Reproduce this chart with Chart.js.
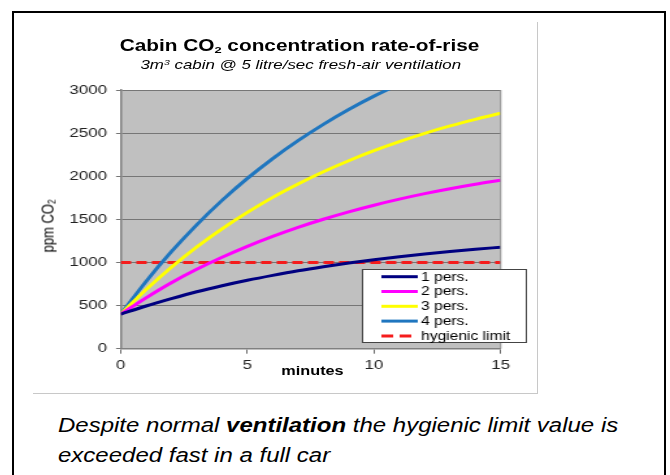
<!DOCTYPE html>
<html>
<head>
<meta charset="utf-8">
<script src="https://cdn.jsdelivr.net/npm/chart.js@4.4.1/dist/chart.umd.min.js"></script>
<style>
  html, body { margin: 0; padding: 0; background: #fff; overflow: hidden; }
  #page { position: relative; width: 670px; height: 475px; font-family: "Liberation Sans", Arial, sans-serif; }
  #frame { position: absolute; left: 12px; top: 11px; width: 650px; height: 500px; border: 2px solid #000; }
  #boxline-r { position: absolute; left: 537px; top: 22px; width: 1px; height: 371px; background: #c8c8c8; }
  #boxline-b { position: absolute; left: 33px; top: 393px; width: 505px; height: 1px; background: #c8c8c8; }
  #chartbox { position: absolute; left: 33px; top: 22px; width: 388px; height: 371px; transform: scaleX(1.3); transform-origin: 0 0; }
  #chartbox canvas { position: absolute; left: 0; top: 0; }
  .lbl { position: absolute; white-space: nowrap; color: #000; line-height: 1; }
  #title { left: 205px; top: 16px; transform: translateX(-50%); font-size: 16px; font-weight: bold; }
  #subtitle { left: 206px; top: 36px; transform: translateX(-50%); font-size: 13px; font-style: italic; }
  #ytitle { left: 11px; top: 204px; transform: translate(-50%, -50%) rotate(-90deg); font-size: 13px; }
  #xtitle { left: 215px; top: 343px; transform: translateX(-50%); font-size: 12.5px; font-weight: bold; }
  sub { font-size: 0.62em; vertical-align: -0.25em; line-height: 0; }
  sup { font-size: 0.62em; vertical-align: 0.45em; line-height: 0; }
  #caption { position: absolute; left: 58px; top: 410px; font-size: 20px; font-style: italic; line-height: 30px; transform: scaleX(1.2); transform-origin: 0 0; white-space: nowrap; }
</style>
</head>
<body>
<div id="page">
  <div id="frame"></div>
  <div id="boxline-r"></div>
  <div id="boxline-b"></div>
  <div id="chartbox">
    <canvas id="co2Chart" width="388" height="371"></canvas>
    <div class="lbl" id="title">Cabin CO<sub>2</sub> concentration rate-of-rise</div>
    <div class="lbl" id="subtitle">3m<sup>3</sup> cabin @ 5 litre/sec fresh-air ventilation</div>
    <div class="lbl" id="ytitle">ppm CO<sub>2</sub></div>
    <div class="lbl" id="xtitle">minutes</div>
  </div>
  <div id="caption">Despite normal <b>ventilation</b> the hygienic limit value is<br>exceeded fast in a full car</div>
</div>
<script>
/* ---------------------------------
   DATA
--------------------------------- */
const minutes = [0, 1, 2, 3, 4, 5, 6, 7, 8, 9, 10, 11, 12, 13, 14, 15];
const onePers = [400, 495, 580, 660, 730, 793, 850, 903, 950, 993, 1032, 1067, 1099, 1127, 1153, 1177];
const twoPers = [400, 590, 765, 920, 1060, 1187, 1302, 1407, 1501, 1587, 1664, 1734, 1798, 1855, 1907, 1954];
const threePers = [400, 685, 945, 1180, 1390, 1580, 1755, 1910, 2052, 2180, 2296, 2401, 2497, 2583, 2660, 2731];
const fourPers = [400, 780, 1125, 1437, 1720, 1975, 2205, 2413, 2602, 2774, 2929, 3068];
const limitMinutes = [0, 15];
const limitValues = [1000, 1000];
const seriesLabels = ["1 pers.", "2 pers.", "3 pers.", "4 pers.", "hygienic limit"];
const xTicks = [0, 5, 10, 15];
const yTicks = [0, 500, 1000, 1500, 2000, 2500, 3000];

/* ---------------------------------
   HELPERS
--------------------------------- */
function toPoints(xs, ys) {
  return ys.map((y, i) => ({ x: xs[i], y: y }));
}

function curve(label, xs, ys, color) {
  return {
    label,
    data: toPoints(xs, ys),
    borderColor: color,
    backgroundColor: color,
    borderWidth: 3,
    pointRadius: 0,
    cubicInterpolationMode: "monotone",
    fill: false
  };
}

// silver plot background + plot border
const plotBackground = {
  id: "plotBackground",
  beforeDraw(chart) {
    const { ctx, chartArea: a } = chart;
    ctx.save();
    ctx.fillStyle = "#c0c0c0";
    ctx.fillRect(a.left, a.top, a.right - a.left, a.bottom - a.top);
    ctx.restore();
  },
  afterDatasetsDraw(chart) {
    const { ctx, chartArea: a } = chart;
    ctx.save();
    ctx.strokeStyle = "#8a8a8a";
    ctx.lineWidth = 1;
    ctx.beginPath();
    ctx.moveTo(a.right, a.top);
    ctx.lineTo(a.right, a.bottom);
    ctx.stroke();
    ctx.restore();
  }
};

// legend box sitting inside the plot, bottom right
const boxLegend = {
  id: "boxLegend",
  afterDraw(chart) {
    const ctx = chart.ctx;
    const box = { left: 253, top: 247, right: 380, bottom: 321 };
    const rowY = 254.7;
    const rowStep = 14.8;
    ctx.save();
    ctx.fillStyle = "#fff";
    ctx.fillRect(box.left, box.top, box.right - box.left, box.bottom - box.top);
    ctx.strokeStyle = "#444";
    ctx.lineWidth = 1;
    ctx.strokeRect(box.left + 0.5, box.top + 0.5, box.right - box.left - 1, box.bottom - box.top - 1);
    ctx.font = "12px 'Liberation Sans', Arial, sans-serif";
    ctx.textBaseline = "middle";
    chart.data.datasets.forEach((ds, i) => {
      const y = rowY + i * rowStep;
      ctx.strokeStyle = ds.borderColor;
      ctx.lineWidth = 3;
      ctx.setLineDash(ds.borderDash ? [9, 5] : []);
      ctx.beginPath();
      ctx.moveTo(268, y);
      ctx.lineTo(296, y);
      ctx.stroke();
      ctx.setLineDash([]);
      ctx.fillStyle = "#000";
      ctx.fillText(ds.label, 298.5, y + 0.5);
    });
    ctx.restore();
  }
};

/* ---------------------------------
   CHART
--------------------------------- */
const ctx = document.getElementById("co2Chart").getContext("2d");
const chart = new Chart(ctx, {
  type: "line",
  data: {
    datasets: [
      curve(seriesLabels[0], minutes, onePers, "#000080"),
      curve(seriesLabels[1], minutes, twoPers, "#ff00ff"),
      curve(seriesLabels[2], minutes, threePers, "#ffff00"),
      curve(seriesLabels[3], minutes, fourPers, "#1f76bf"),
      {
        label: seriesLabels[4],
        data: toPoints(limitMinutes, limitValues),
        borderColor: "#f51c1c",
        borderWidth: 3,
        borderDash: [8, 4],
        pointRadius: 0,
        tension: 0
      }
    ]
  },
  options: {
    responsive: false,
    animation: false,
    devicePixelRatio: 1,
    layout: { padding: { left: 0, top: 68, right: 28.23, bottom: 14.3 } },
    plugins: { legend: { display: false }, tooltip: { enabled: false } },
    scales: {
      x: {
        type: "linear",
        min: 0,
        max: 15,
        afterBuildTicks: (s) => { s.ticks = xTicks.map((v) => ({ value: v })); },
        afterFit: (s) => { s.height = 30; },
        ticks: {
          color: "#222",
          padding: 4,
          maxRotation: 0,
          callback: (v) => String(v),
          font: { family: "'Liberation Sans', Arial, sans-serif", size: 13 }
        },
        grid: { drawOnChartArea: false, drawTicks: true, tickLength: 5, color: "#666" },
        border: { display: true, color: "#808080", width: 1.5 }
      },
      y: {
        min: 0,
        max: 3000,
        afterBuildTicks: (s) => { s.ticks = yTicks.map((v) => ({ value: v })); },
        afterFit: (s) => { s.width = 67.46; },
        ticks: {
          color: "#222",
          padding: 7,
          callback: (v) => String(v),
          font: { family: "'Liberation Sans', Arial, sans-serif", size: 13 }
        },
        grid: { color: "#767676", lineWidth: 1, tickLength: 3.6 },
        border: { display: true, color: "#808080", width: 1.5 }
      }
    }
  },
  plugins: [plotBackground, boxLegend]
});
</script>
</body>
</html>
